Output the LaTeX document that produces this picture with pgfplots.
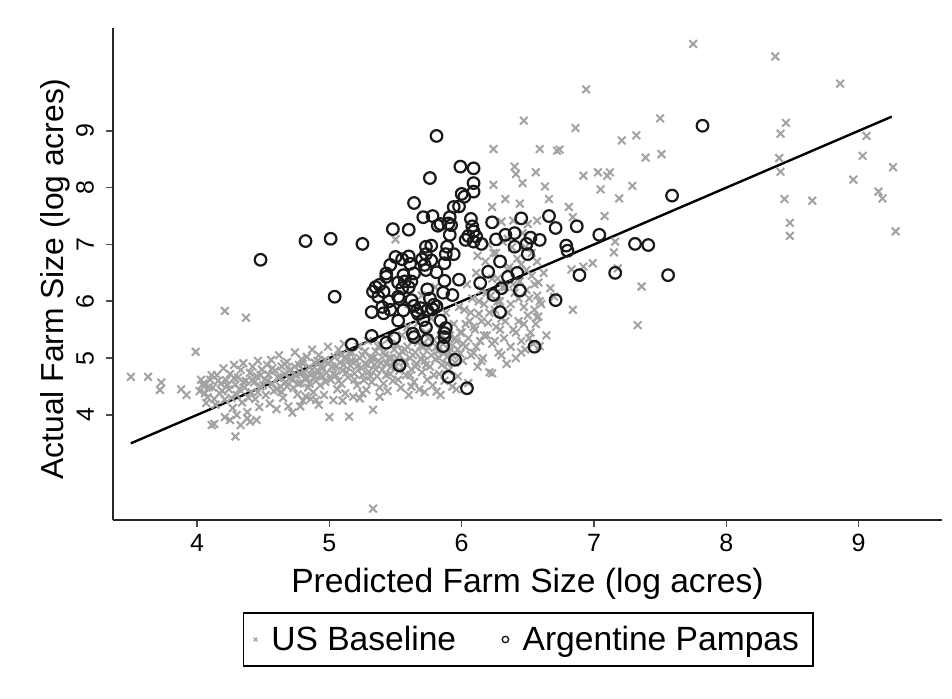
\documentclass[border=0pt]{standalone}
\usepackage{pgfplots}
\pgfplotsset{compat=1.18}
\usepackage{fontspec}
\setmainfont{Liberation Sans}
\definecolor{usgray}{RGB}{162,162,162}
\definecolor{argblk}{RGB}{25,25,25}
\begin{document}
\begin{tikzpicture}
\useasboundingbox (-56.5pt,-89pt) rectangle (419.5pt,260pt);
\begin{axis}[
    scale only axis,
    width=414.5pt, height=246pt,
    xmin=3.365, xmax=9.63, ymin=2.15, ymax=10.81,
    axis x line*=bottom, axis y line*=left,
    axis line style={line width=0.8pt, black!85},
    xtick={4,5,6,7,8,9}, ytick={4,5,6,7,8,9},
    tick align=outside, major tick length=3.5pt,
    tick style={line width=0.8pt, black!70},
    /pgf/number format/assume math mode=true,
    ticklabel style={font=\fontsize{12.5}{14}\selectfont},
    yticklabel style={rotate=90, anchor=south},
    yticklabel shift=2.5pt,
    xlabel={Predicted Farm Size (log acres)},
    ylabel={Actual Farm Size (log acres)},
    xlabel style={font=\fontsize{16.8}{19}\selectfont, at={(axis description cs:0.5,0)}, anchor=center, yshift=-32pt},
    ylabel style={font=\fontsize{15.9}{18}\selectfont, at={(axis description cs:-0.07,0.49)}, anchor=center},
    legend style={at={(axis description cs:0.501,-0.187)}, anchor=north,
        legend columns=2, draw=black, line width=0.8pt,
        inner xsep=5pt, inner ysep=4.5pt,
        font=\fontsize{16.8}{19}\selectfont,
        /tikz/every odd column/.append style={column sep=5pt},
        /tikz/every even column/.append style={column sep=21pt}},
    legend image code/.code={\draw[#1] plot coordinates {(0.12cm,0cm)};},
]
% US Baseline
\addplot[only marks, mark=x, mark size=2.7pt, usgray, line width=1pt,
    legend image post style={mark size=1.3pt, line width=0.6pt}] coordinates {
(3.50,4.67) (3.63,4.67) (3.73,4.57) (3.72,4.44) (3.88,4.45) (3.92,4.35) (3.99,5.11) (4.21,5.83) (4.37,5.71)
(4.21,3.96) (4.25,3.91) (4.30,4.00) (4.38,3.94) (4.40,3.88) (4.45,3.91) (4.33,3.82) (4.11,3.82) (4.13,3.84) (4.29,3.62) (4.07,4.21) (4.04,4.53)
(4.02,4.42) (4.05,4.55) (4.08,4.31) (4.10,4.62) (4.12,4.48) (4.14,4.18) (4.15,4.70) (4.17,4.38) (4.18,4.55) (4.20,4.82)
(4.21,4.27) (4.22,4.61) (4.24,4.45) (4.25,4.72) (4.27,4.12) (4.28,4.88) (4.29,4.53) (4.30,4.35) (4.31,4.66) (4.33,4.79)
(4.34,4.22) (4.35,4.91) (4.36,4.48) (4.37,4.60) (4.38,4.05) (4.40,4.74) (4.41,4.40) (4.42,4.85) (4.43,4.57) (4.44,4.28)
(4.45,4.68) (4.46,4.95) (4.47,4.14) (4.48,4.50) (4.49,4.80)
(4.03,4.62) (4.06,4.38) (4.09,4.49) (4.11,4.70) (4.13,4.28) (4.16,4.60) (4.19,4.42) (4.23,4.52) (4.26,4.30) (4.28,4.65)
(4.32,4.45) (4.35,4.58) (4.39,4.30) (4.42,4.62) (4.46,4.40) (4.48,4.70) (4.50,4.52) (4.53,4.60) (4.57,4.82) (4.60,4.45)
(4.51,4.62) (4.52,4.35) (4.53,4.88) (4.54,4.71) (4.55,4.20) (4.56,4.97) (4.57,4.55) (4.58,4.42) (4.59,4.78) (4.60,4.10)
(4.61,4.66) (4.62,5.05) (4.63,4.50) (4.64,4.85) (4.65,4.30) (4.66,4.72) (4.67,4.58) (4.68,4.93) (4.69,4.15) (4.70,4.64)
(4.71,4.80) (4.72,4.04) (4.73,4.47) (4.74,5.10) (4.75,4.70) (4.76,4.36) (4.77,4.88) (4.78,4.56) (4.79,4.98) (4.80,4.25)
(4.81,4.75) (4.82,4.62) (4.82,4.33) (4.83,5.02) (4.84,4.48) (4.85,4.84) (4.86,4.70) (4.87,5.15) (4.88,4.40) (4.89,4.92)
(4.90,4.26) (4.90,4.60) (4.91,4.78) (4.92,5.05) (4.93,4.52) (4.94,4.86) (4.95,4.68) (4.96,4.35) (4.97,4.97) (4.98,4.74) (4.99,5.20)
(4.62,4.65) (4.64,4.40) (4.66,4.90) (4.68,4.50) (4.70,4.78) (4.72,4.62) (4.74,4.85) (4.76,4.55) (4.78,4.72) (4.80,4.90)
(4.83,4.65) (4.85,4.55) (4.87,4.80) (4.89,4.68) (4.91,4.95) (4.93,4.70) (4.95,4.82) (4.97,4.58) (4.99,4.90) (4.86,4.28)
(4.92,4.18) (4.78,4.15)
(5.00,3.96) (5.01,4.62) (5.02,4.85) (5.03,4.26) (5.04,5.02) (5.05,4.70) (5.06,4.45) (5.07,5.15) (5.08,4.92) (5.09,4.55)
(5.10,4.78) (5.11,5.25) (5.12,4.38) (5.13,4.99) (5.14,4.66) (5.15,3.97) (5.16,4.87) (5.17,5.10) (5.18,4.32) (5.19,4.73)
(5.20,4.95) (5.21,4.52) (5.22,5.20) (5.23,4.29) (5.24,4.83) (5.25,5.05) (5.26,4.61) (5.27,4.90) (5.28,4.44) (5.29,5.30)
(5.30,4.76) (5.31,5.00) (5.32,4.58) (5.33,4.09) (5.33,2.35) (5.34,4.88) (5.35,5.12) (5.36,4.68) (5.37,4.95) (5.38,4.32)
(5.39,5.22) (5.40,4.80) (5.41,4.55) (5.42,5.05) (5.43,4.90) (5.44,4.42) (5.45,5.35) (5.46,4.72) (5.47,5.00) (5.48,4.60) (5.49,5.15)
(5.01,4.95) (5.03,4.72) (5.05,4.85) (5.07,4.60) (5.09,5.05) (5.11,4.88) (5.13,4.75) (5.15,5.10) (5.17,4.95) (5.19,4.62)
(5.21,4.85) (5.23,5.00) (5.25,4.70) (5.27,5.12) (5.29,4.88) (5.31,4.68) (5.33,5.00) (5.35,4.80) (5.37,5.20) (5.39,4.92)
(5.41,5.10) (5.43,4.70) (5.45,5.00) (5.47,4.85) (5.49,4.95) (5.10,4.25) (5.25,4.38) (5.38,4.48)
(5.50,4.85) (5.51,5.25) (5.52,4.62) (5.53,5.05) (5.54,4.48) (5.55,5.40) (5.56,4.92) (5.57,5.15) (5.58,4.70) (5.59,5.55)
(5.60,4.35) (5.61,5.00) (5.62,4.80) (5.63,5.30) (5.64,4.58) (5.65,5.10) (5.66,4.90) (5.67,5.62) (5.68,4.45) (5.69,5.22)
(5.70,4.75) (5.71,5.05) (5.72,4.95) (5.73,5.45) (5.74,4.62) (5.75,5.18) (5.76,4.85) (5.77,5.70) (5.78,4.52) (5.79,5.32)
(5.80,4.98) (5.81,4.41) (5.82,5.12) (5.83,4.72) (5.84,5.50) (5.85,4.88) (5.86,5.25) (5.87,4.60) (5.88,5.80) (5.89,5.02)
(5.90,4.78) (5.91,5.40) (5.92,5.15) (5.93,4.50) (5.94,5.60) (5.95,4.92) (5.96,5.30) (5.97,4.68) (5.98,5.90) (5.99,5.08)
(5.51,5.00) (5.53,4.78) (5.55,5.12) (5.57,4.95) (5.59,5.20) (5.61,4.70) (5.63,5.05) (5.65,4.85) (5.67,5.28) (5.69,4.98)
(5.71,5.20) (5.73,4.88) (5.75,5.35) (5.77,5.05) (5.79,4.70) (5.81,5.20) (5.83,5.00) (5.85,5.40) (5.87,5.10) (5.89,4.90)
(5.91,5.25) (5.93,5.05) (5.95,5.35) (5.97,5.15) (5.99,5.45) (5.62,4.50) (5.72,4.40) (5.84,4.35) (5.96,4.45)
(5.60,5.95) (5.70,6.10) (5.80,6.25) (5.50,7.09)
(6.00,5.45) (6.01,4.95) (6.02,5.85) (6.03,5.20) (6.04,6.30) (6.05,4.56) (6.06,5.65) (6.07,5.05) (6.08,6.05) (6.09,5.09)
(6.10,5.50) (6.11,6.50) (6.12,4.85) (6.13,5.78) (6.14,5.30) (6.15,6.20) (6.16,5.00) (6.17,5.95) (6.18,6.70) (6.19,5.40)
(6.20,5.62) (6.21,4.75) (6.22,6.10) (6.23,4.73) (6.23,5.25) (6.24,6.85) (6.25,5.85) (6.26,5.55) (6.27,6.40) (6.28,5.10)
(6.29,6.00) (6.30,5.70) (6.31,7.05) (6.32,5.35) (6.33,6.25) (6.34,4.90) (6.35,5.80) (6.36,6.60) (6.37,5.20) (6.38,6.95)
(6.39,5.50) (6.40,6.15) (6.41,5.00) (6.42,6.75) (6.43,5.65) (6.44,6.35) (6.45,5.30) (6.46,7.20) (6.47,5.90) (6.48,5.15)
(6.49,6.55) (6.50,5.75) (6.51,6.05) (6.52,5.45) (6.53,6.85) (6.54,5.25) (6.55,6.30) (6.56,5.60) (6.57,5.72) (6.58,6.33)
(6.59,5.21) (6.60,5.95) (6.62,6.50) (6.64,5.40)
(6.01,5.25) (6.03,5.60) (6.05,5.35) (6.07,5.80) (6.09,5.55) (6.11,5.20) (6.13,6.00) (6.15,5.65) (6.17,5.40) (6.19,6.15)
(6.21,5.80) (6.23,6.40) (6.25,5.30) (6.27,6.00) (6.29,5.50) (6.31,6.25) (6.33,5.65) (6.35,6.55) (6.37,5.95) (6.39,6.30)
(6.41,5.45) (6.43,6.05) (6.45,6.65) (6.47,5.60) (6.49,6.20) (6.51,5.35) (6.53,6.45) (6.55,5.85) (6.57,6.70) (6.59,6.00)
(6.15,4.95) (6.30,5.05) (6.45,5.10) (6.20,7.00) (6.35,7.10) (6.48,6.95) (6.26,6.85) (6.12,6.80)
(6.30,7.40) (6.39,7.42) (6.50,7.36) (6.57,7.42) (6.23,7.66) (6.44,7.72) (6.33,7.80) (6.66,7.80) (6.24,8.05) (6.46,8.08)
(6.63,8.02) (6.40,8.37) (6.41,8.24) (6.56,8.27) (6.24,8.68) (6.59,8.68) (6.72,8.65) (6.47,9.18) (6.74,8.67)
(6.67,6.23) (6.57,6.10) (6.58,5.73) (6.70,6.08)
(6.94,9.73) (6.86,9.05) (7.50,9.22) (7.21,8.83) (7.32,8.92) (7.39,8.53) (7.51,8.59) (7.75,10.53) (8.37,10.31) (8.86,9.83)
(8.45,9.14) (8.41,8.95) (9.06,8.91) (8.40,8.52) (8.41,8.28) (9.03,8.56) (9.26,8.36) (8.96,8.14) (9.15,7.93) (9.18,7.81)
(8.44,7.80) (8.65,7.77) (8.48,7.38) (8.48,7.15) (9.28,7.23) (6.92,8.21) (7.03,8.27) (7.10,8.21) (7.12,8.27) (7.05,7.97)
(7.19,7.81) (7.29,8.03) (6.81,7.66) (6.84,7.48) (7.08,7.50) (7.16,7.05) (7.15,6.86) (7.18,6.58) (6.99,6.67) (6.92,6.61)
(6.83,6.56) (7.36,6.26) (6.84,5.85) (7.33,5.58)
};
\addlegendentry{US Baseline}
% Argentine Pampas
\addplot[only marks, mark=o, mark size=2.9pt, argblk, line width=1.1pt,
    legend image post style={mark size=1.6pt, line width=0.7pt}] coordinates {
(5.81,8.91) (5.99,8.37) (6.09,8.34) (5.76,8.17) (6.09,8.08) (6.09,7.93) (6.00,7.89) (6.02,7.84) (5.64,7.73) (5.94,7.66)
(5.98,7.67) (5.71,7.48) (5.78,7.50) (5.91,7.48) (5.90,7.37) (5.92,7.34) (5.82,7.33) (5.84,7.36) (6.07,7.45) (6.08,7.32)
(6.09,7.23) (5.48,7.27) (5.60,7.26) (5.01,7.10) (5.25,7.01) (5.91,7.17) (6.05,7.15) (6.11,7.14) (6.03,7.08) (6.09,7.05)
(6.15,7.01) (6.23,7.39) (6.45,7.46) (6.66,7.50) (6.71,7.29) (6.87,7.32) (6.26,7.09) (6.33,7.17) (6.40,7.20) (6.40,6.96)
(6.49,7.01) (6.52,7.12) (6.59,7.08) (6.50,6.83) (6.79,6.98) (6.80,6.89) (7.04,7.17) (7.31,7.01) (7.41,6.99) (7.16,6.50)
(6.89,6.46) (6.71,6.02) (6.29,6.70) (6.20,6.52) (6.14,6.32) (6.24,6.11) (6.30,6.23) (6.35,6.43) (6.42,6.50) (6.44,6.19)
(6.29,5.81) (6.55,5.20) (5.73,6.96) (5.77,6.98) (5.73,6.83) (5.89,6.96) (5.88,6.83) (5.94,6.83) (5.50,6.78) (5.60,6.79)
(5.61,6.66) (5.55,6.74) (5.70,6.74) (5.77,6.72) (5.72,6.64) (5.73,6.55) (5.87,6.67) (5.46,6.64) (5.43,6.49) (5.43,6.43)
(5.56,6.46) (5.64,6.49) (5.57,6.35) (5.62,6.35) (5.52,6.33) (5.81,6.51) (5.87,6.36) (5.98,6.38) (5.35,6.25) (5.38,6.29)
(5.33,6.17) (5.41,6.17) (5.55,6.23) (5.60,6.25) (5.74,6.21) (5.86,6.15) (5.93,6.11) (5.37,6.08) (5.45,6.00) (5.52,6.08)
(5.53,6.04) (5.62,6.02) (5.76,6.05) (5.79,5.94) (5.04,6.08) (5.32,5.81) (5.40,5.90) (5.41,5.79) (5.46,5.85) (5.56,5.84)
(5.64,5.92) (5.66,5.83) (5.69,5.88) (5.74,5.84) (5.78,5.86) (5.81,5.91) (5.52,5.66) (5.67,5.78) (5.71,5.67) (5.73,5.54)
(5.84,5.66) (5.88,5.53) (5.87,5.44) (5.87,5.37) (5.86,5.21) (5.63,5.43) (5.64,5.37) (5.74,5.32) (5.49,5.35) (5.43,5.27)
(5.32,5.39) (5.17,5.24) (5.53,4.87) (5.95,4.97) (5.90,4.67) (7.56,6.46) (6.04,4.47) (7.82,9.09) (7.59,7.86) (4.48,6.73)
(4.82,7.06)
};
\addlegendentry{Argentine Pampas}
% fitted line
\addplot[black, line width=1.2pt, forget plot] coordinates {(3.5,3.5) (9.25,9.25)};
\end{axis}
\end{tikzpicture}
\end{document}
